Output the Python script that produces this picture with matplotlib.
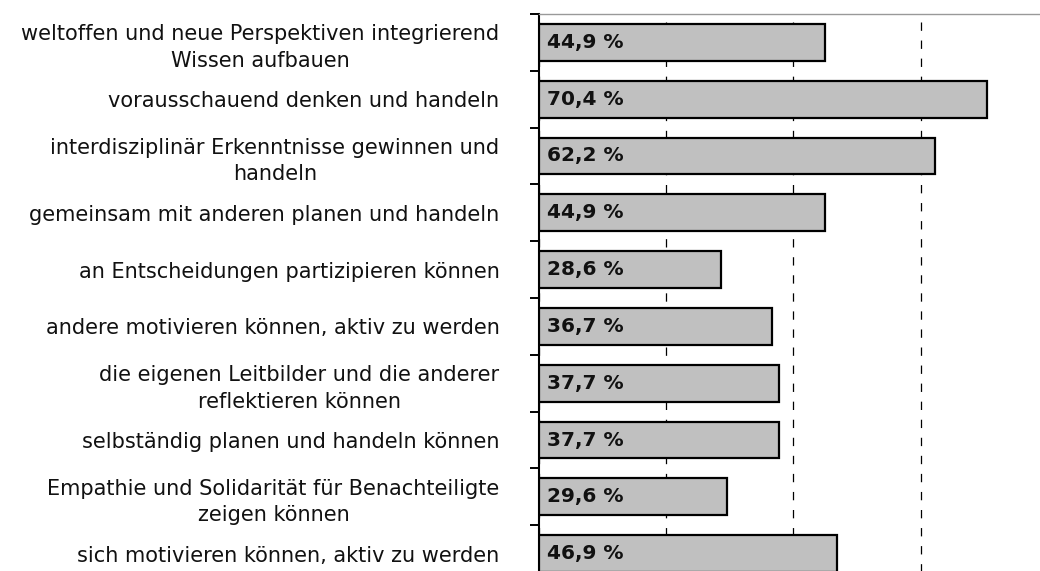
import matplotlib
matplotlib.use("Agg")
import matplotlib.pyplot as plt
import numpy as np

plt.rcParams['font.family'] = ['DejaVu Sans']
plt.rcParams['lines.scale_dashes'] = False

# categories from top to bottom
categories = [
    "weltoffen und neue Perspektiven integrierend\nWissen aufbauen",
    "vorausschauend denken und handeln",
    "interdisziplinär Erkenntnisse gewinnen und\nhandeln",
    "gemeinsam mit anderen planen und handeln",
    "an Entscheidungen partizipieren können",
    "andere motivieren können, aktiv zu werden",
    "die eigenen Leitbilder und die anderer\nreflektieren können",
    "selbständig planen und handeln können",
    "Empathie und Solidarität für Benachteiligte\nzeigen können",
    "sich motivieren können, aktiv zu werden",
]
values = [44.9, 70.4, 62.2, 44.9, 28.6, 36.7, 37.7, 37.7, 29.6, 46.9]
grid_ticks = [0, 20, 40, 60, 80]

fig = plt.figure(figsize=(10.4, 5.71), dpi=100)
ax = fig.add_axes([0.5178, -0.0193, 0.49, 0.9948])

y = np.arange(len(categories))
ax.barh(y, values, height=0.65, color='#c0c0c0', edgecolor='black', linewidth=1.6, zorder=3)

for yi, v in zip(y, values):
    ax.annotate(f"{v:.1f} %".replace('.', ','), xy=(0, yi), xytext=(6, 0),
                textcoords='offset points', va='center', ha='left',
                fontsize=14.5, fontweight='bold', color='#111111', zorder=4)

ax.set_xlim(0, 80)
ax.set_ylim(len(categories) - 0.5, -0.5)

# x grid dashed, no labels
ax.set_xticks(grid_ticks)
ax.tick_params(axis='x', length=0, labelbottom=False)
ax.grid(axis='x', color='black', linestyle=(0, (6, 7)), linewidth=0.9)
ax.set_axisbelow(True)

# labels at centres, tick marks at boundaries
ax.set_yticks(y)
ax.set_yticklabels(categories, fontsize=15, color='#111111', multialignment='center')
for lab in ax.get_yticklabels():
    lab.set_linespacing(1.4)
ax.tick_params(axis='y', which='major', length=0, pad=28)
ax.set_yticks(np.arange(len(categories) + 1) - 0.5, minor=True)
ax.tick_params(axis='y', which='minor', length=6.5, width=1.4, direction='out')

ax.spines['top'].set_color('#999999')
ax.spines['top'].set_linewidth(1.0)
ax.spines['left'].set_linewidth(1.5)
ax.spines['right'].set_visible(False)
ax.spines['bottom'].set_visible(False)

plt.savefig("out.png", dpi=100)
